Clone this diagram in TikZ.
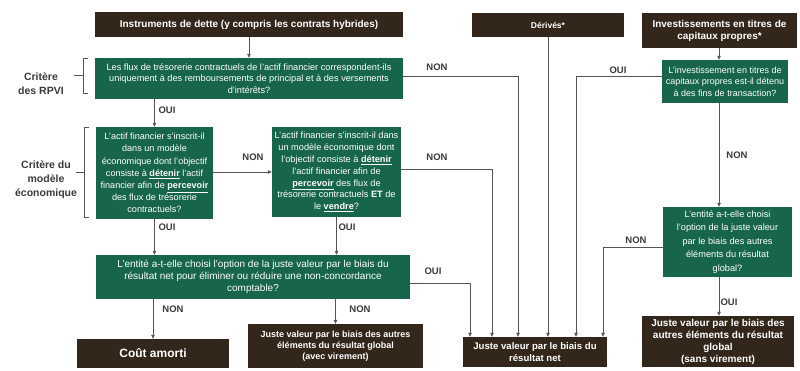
\documentclass[tikz,border=0pt]{standalone}
\usepackage{fontspec}
\setmainfont{Liberation Sans}
\usetikzlibrary{arrows.meta}
\definecolor{dbrown}{HTML}{33261A}
\definecolor{dgreen}{HTML}{17654B}
\definecolor{lgray}{HTML}{555555}
\definecolor{lbl}{HTML}{3A3A3A}
\newcommand{\ulb}[1]{\underline{\textbf{#1}}}
\begin{document}
\begin{tikzpicture}[x=1pt,y=-1pt,
  dbox/.style={fill=dbrown, text=white, font=\fontsize{8.5}{10.5}\selectfont\bfseries, align=center, inner sep=0pt},
  gbox/.style={fill=dgreen, text=white, font=\fontsize{9.2}{11.5}\selectfont, align=center, inner sep=0pt},
  conn/.style={draw=lgray, line width=0.6pt},
  arr/.style={conn, -{Triangle[length=4pt,width=3.5pt]}},
  lab/.style={font=\fontsize{9.5}{10}\selectfont\bfseries, text=lbl},
  crit/.style={font=\fontsize{10.5}{14}\selectfont\bfseries, text=lbl, align=center}]
\fill[white] (0,0) rectangle (800,371);
\useasboundingbox (0,0) rectangle (800,371);

% boxes
\node[dbox, font=\fontsize{10}{11}\selectfont\bfseries, minimum width=308pt, minimum height=25pt] (top) at (249,24.5) {Instruments de dette (y compris les contrats hybrides)};
\node[gbox, minimum width=308pt, minimum height=41pt] (rpvi) at (249,78.5) {Les flux de trésorerie contractuels de l'actif financier correspondent-ils\\uniquement à des remboursements de principal et à des versements\\d'intérêts?};
\node[gbox, font=\fontsize{9.1}{12.2}\selectfont, minimum width=117pt, minimum height=92pt] (A) at (154.5,173) {L'actif financier s'inscrit-il\\dans un modèle\\économique dont l'objectif\\consiste à \ulb{détenir} l'actif\\financier afin de \ulb{percevoir}\\des flux de trésorerie\\contractuels?};
\node[gbox, font=\fontsize{9.2}{11.8}\selectfont, minimum width=129pt, minimum height=90pt] (B) at (336.5,172) {L'actif financier s'inscrit-il dans\\un modèle économique dont\\l'objectif consiste à \ulb{détenir}\\l'actif financier afin de\\\ulb{percevoir} des flux de\\trésorerie contractuels \textbf{ET} de\\le \ulb{vendre}?};
\node[gbox, font=\fontsize{10}{12}\selectfont, minimum width=314pt, minimum height=44pt] (fvo) at (253,277) {L'entité a-t-elle choisi l'option de la juste valeur par le biais du\\résultat net pour éliminer ou réduire une non-concordance\\comptable?};
\node[dbox, font=\fontsize{12}{14}\selectfont\bfseries, minimum width=152pt, minimum height=29pt] (cout) at (153,353.5) {Coût amorti};
\node[dbox, font=\fontsize{9}{11}\selectfont\bfseries, minimum width=175pt, minimum height=44pt] (avec) at (335.5,346) {Juste valeur par le biais des autres\\éléments du résultat global\\(avec virement)};
\node[dbox, minimum width=152pt, minimum height=24pt] (der) at (548,25) {Dérivés*};
\node[dbox, font=\fontsize{10}{12}\selectfont\bfseries, minimum width=155pt, minimum height=35pt] (eq) at (719.5,30.5) {Investissements en titres de\\capitaux propres*};
\node[gbox, font=\fontsize{9}{11.5}\selectfont, minimum width=126pt, minimum height=43pt] (eqq) at (725,81.5) {L'investissement en titres de\\capitaux propres est-il détenu\\à des fins de transaction?};
\node[gbox, font=\fontsize{9.2}{13.5}\selectfont, minimum width=129pt, minimum height=70pt] (eqfv) at (727.5,242) {L'entité a-t-elle choisi\\l'option de la juste valeur\\par le biais des autres\\éléments du résultat\\global?};
\node[dbox, font=\fontsize{9.6}{12}\selectfont\bfseries, minimum width=144pt, minimum height=30pt] (net) at (535,352) {Juste valeur par le biais du\\résultat net};
\node[dbox, font=\fontsize{10}{12}\selectfont\bfseries, minimum width=152pt, minimum height=51pt] (sans) at (718,341.5) {Juste valeur par le biais des\\autres éléments du résultat\\global\\(sans virement)};

% side labels
\node[crit] (c1) at (41,84) {Critère\\des RPVI};
\node[crit] (c2) at (46,180) {Critère du\\modèle\\économique};
\draw[conn] (88,58) -- (83,58) -- (83,93) -- (88,93);
\draw[conn] (74,75.5) -- (83,75.5);
\draw[conn] (89,127) -- (84,127) -- (84,217) -- (89,217);
\draw[conn] (76,172) -- (84,172);

% turning points
\coordinate (k1) at (518,76);
\coordinate (k2) at (492,169);
\coordinate (k3) at (470,283);
\coordinate (k4) at (576,76);
\coordinate (k6) at (719,0);
\coordinate (k7) at (603,247);

% connectors
\draw[arr] (top.south) -- (rpvi.north);
\draw[arr] (rpvi.south -| A) -- (A.north);
\draw[arr] (rpvi.east |- k1) -- (k1) -- (k1 |- net.north);
\draw[arr] (A.east |- B) -- (B.west);
\draw[arr] (A.south) -- (A.south |- fvo.north);
\draw[arr] (B.south) -- (B.south |- fvo.north);
\draw[arr] (B.east |- k2) -- (k2) -- (k2 |- net.north);
\draw[arr] (fvo.south -| cout) -- (cout.north);
\draw[arr] (fvo.south -| avec) -- (avec.north);
\draw[arr] (fvo.east |- k3) -- (k3) -- (k3 |- net.north);
\draw[arr] (der.south) -- (der.south |- net.north);
\draw[arr] (eq.south -| k6) -- (eqq.north -| k6);
\draw[arr] (eqq.west |- k4) -- (k4) -- (k4 |- net.north);
\draw[arr] (eqq.south -| k6) -- (eqfv.north -| k6);
\draw[arr] (eqfv.west |- k7) -- (k7) -- (k7 |- net.north);
\draw[arr] (eqfv.south -| k6) -- (sans.north -| k6);

% connector labels
\node[lab] (l1) at (167,110) {OUI};
\node[lab] (l2) at (437,67) {NON};
\node[lab] (l3) at (253,157) {NON};
\node[lab] (l4) at (437,157) {NON};
\node[lab] (l5) at (167,227) {OUI};
\node[lab] (l6) at (347,227) {OUI};
\node[lab] (l7) at (173,309) {NON};
\node[lab] (l8) at (360,309) {NON};
\node[lab] (l9) at (433,271) {OUI};
\node[lab] (l10) at (618,70) {OUI};
\node[lab] (l11) at (737,155) {NON};
\node[lab] (l12) at (636,240) {NON};
\node[lab] (l13) at (729,302) {OUI};
\end{tikzpicture}
\end{document}
